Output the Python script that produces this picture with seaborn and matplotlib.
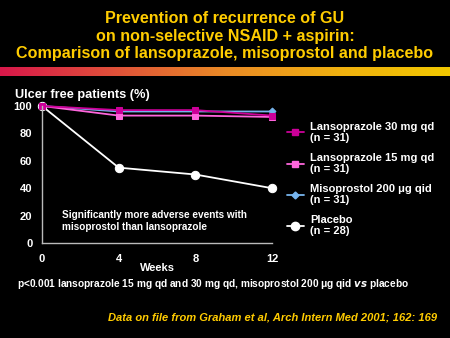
import numpy as np
import pandas as pd
import matplotlib
matplotlib.use("Agg")
import matplotlib.pyplot as plt
from matplotlib.colors import LinearSegmentedColormap
from matplotlib.lines import Line2D
import seaborn as sns

weeks = [0, 4, 8, 12]
lanso30 = [100, 97, 97, 93]
lanso15 = [100, 93, 93, 92]
miso = [100, 96, 96, 96]
placebo = [100, 55, 50, 40]
series_names = ["Lansoprazole 30 mg qd", "Lansoprazole 15 mg qd",
                "Misoprostol 200 \u03bcg qid", "Placebo"]
series_n = [31, 31, 31, 28]
y_ticks = [0, 20, 40, 60, 80, 100]

sns.set_theme(style="white")
plt.rcParams['font.family'] = ['Liberation Sans', 'DejaVu Sans']
plt.rcParams['font.weight'] = 'bold'

colors = ["#CC0099", "#FF66DD", "#77B5EE", "#FFFFFF"]
markers = ["s", "s", "D", "o"]
msizes = [5, 5, 3.5, 6]

df = pd.DataFrame({
    "week": weeks * 4,
    "value": lanso30 + lanso15 + miso + placebo,
    "series": sum([[s] * len(weeks) for s in series_names], []),
})

fig = plt.figure(figsize=(4.5, 3.38), dpi=100, facecolor="black")
W, H = 450, 338
ax = fig.add_axes([42 / W, 1 - 243 / H, 230 / W, 137 / H])
ax.set_facecolor("black")

# draw placebo first so treatment lines sit on top
order = [3, 2, 1, 0]
for i in order:
    sub = df[df["series"] == series_names[i]]
    sns.lineplot(data=sub, x="week", y="value", ax=ax, color=colors[i],
                 marker=markers[i], markersize=msizes[i], linewidth=1.3,
                 markeredgecolor=colors[i], clip_on=False, legend=False)

ax.set_xlim(0, 12)
ax.set_ylim(0, 100)
ax.set_xticks(weeks)
ax.set_yticks(y_ticks)
ax.set_xlabel("")
ax.set_ylabel("")
for sp in ["top", "right"]:
    ax.spines[sp].set_visible(False)
for sp in ["left", "bottom"]:
    ax.spines[sp].set_color("#BBBBBB")
    ax.spines[sp].set_linewidth(1)
ax.tick_params(axis="both", colors="#BBBBBB", labelcolor="white",
               labelsize=8, length=3, width=0.8, direction="out")
ax.tick_params(axis="x", pad=5)
ax.tick_params(axis="y", pad=4)
for lab in ax.get_xticklabels() + ax.get_yticklabels():
    lab.set_fontweight("bold")

ax.text(1.05, 16, "Significantly more adverse events with\nmisoprostol than lansoprazole",
        color="white", fontsize=7.2, fontweight="bold", va="center",
        linespacing=1.25)

# Title
fig.text(0.5, 1 - 36 / H,
         "Prevention of recurrence of GU\non non-selective NSAID + aspirin:\nComparison of lansoprazole, misoprostol and placebo",
         color="#FFCC00", fontsize=11.6, fontweight="bold", ha="center", va="center",
         linespacing=1.18)

# gradient bar
cmap = LinearSegmentedColormap.from_list(
    "bar", ["#D8184A", "#E0503A", "#EA8A26", "#F0B010", "#F2C800"])
bax = fig.add_axes([0, 1 - 76 / H, 1, 9 / H])
bax.imshow(np.linspace(0, 1, 256)[None, :], aspect="auto", cmap=cmap)
bax.set_axis_off()

fig.text(15 / W, 1 - 95 / H, "Ulcer free patients (%)", color="white",
         fontsize=9.2, fontweight="bold", ha="left", va="center")
fig.text(157 / W, 1 - 268 / H, "Weeks", color="white", fontsize=8,
         fontweight="bold", ha="center", va="center")
fig.text(17 / W, 1 - 284 / H,
         "p<0.001 lansoprazole 15 mg qd and 30 mg qd, misoprostol 200 \u03bcg qid $\\it{vs}$ placebo",
         color="white", fontsize=7.3, fontweight="bold", ha="left", va="center")
fig.text(437 / W, 1 - 317 / H,
         "Data on file from Graham et al, Arch Intern Med 2001; 162: 169",
         color="#FFCC00", fontsize=8.0, fontweight="bold", style="italic",
         ha="right", va="center")

# legend
handles = [Line2D([0], [0], color=colors[i], marker=markers[i],
                  markersize=msizes[i], markeredgecolor=colors[i], linewidth=1.3)
           for i in range(4)]
labels = [f"{series_names[i]}\n(n = {series_n[i]})" for i in range(4)]
leg = fig.legend(handles, labels, loc="upper left",
                 bbox_to_anchor=(281 / W, 1 - 116 / H), frameon=False,
                 fontsize=8, labelcolor="white", handlelength=1.6,
                 handletextpad=0.5, labelspacing=0.85, borderpad=0)
for t in leg.get_texts():
    t.set_fontweight("bold")

fig.savefig("out.png", dpi=100, facecolor="black")
